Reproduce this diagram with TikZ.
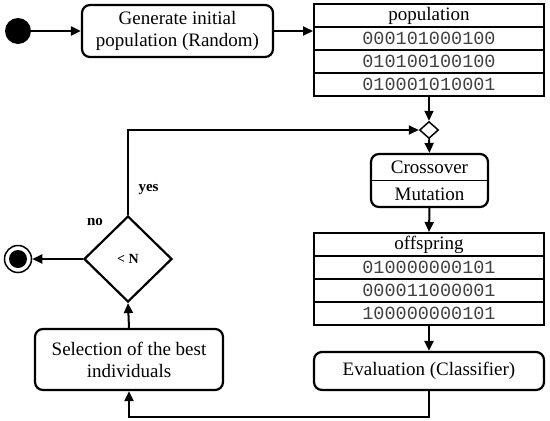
\documentclass[tikz,border=0pt]{standalone}
\usepackage{fontspec}
\setmainfont{Liberation Serif}
\setmonofont{Liberation Mono}
\usetikzlibrary{shapes.geometric,arrows.meta}
\begin{document}
\begin{tikzpicture}[x=1pt,y=-1pt,
  box/.style={draw,line width=2.2pt,rounded corners=8pt,align=center,font=\fontsize{19}{22}\selectfont,inner sep=0pt},
  cell/.style={draw,line width=2pt,minimum width=230pt,minimum height=23pt,inner sep=0pt,font=\fontsize{18.5}{22}\ttfamily\selectfont,text=black!75},
  head/.style={cell,font=\fontsize{19}{22}\selectfont,text=black},
  flow/.style={line width=2pt,-{Triangle[length=10pt,width=9pt]}},
  lab/.style={font=\fontsize{15}{18}\bfseries\selectfont}]
\useasboundingbox (0,0) rectangle (550,421);
% start / end
\node[circle,fill,minimum size=26pt,inner sep=0pt] (start) at (18,31) {};
\node[circle,draw,line width=1.5pt,minimum size=27pt,inner sep=0pt] (end) at (18,259) {};
\node[circle,fill,minimum size=18pt,inner sep=0pt] (endin) at (end) {};
% actions
\node[box,minimum width=191pt,minimum height=52pt] (gen) at (177.5,31) {Generate initial\\population (Random)};
\node[box,minimum width=117pt,minimum height=53pt] (cm) at (429.5,180.5) {Crossover\\[5pt]Mutation};
\draw[line width=1.5pt] (cm.west) -- (cm.east);
\node[box,minimum width=230pt,minimum height=38pt] (eval) at (429,371) {Evaluation (Classifier)};
\node[box,minimum width=188pt,minimum height=61pt] (sel) at (129,359.5) {Selection of the best\\individuals};
% population table
\node[head] (ph) at (429,15.5) {population};
\node[cell] (p1) at (429,38.5) {000101000100};
\node[cell] (p2) at (429,61.5) {010100100100};
\node[cell] (p3) at (429,84.5) {010001010001};
% offspring table
\node[head] (oh) at (429,244.5) {offspring};
\node[cell] (o1) at (429,267.5) {010000000101};
\node[cell] (o2) at (429,290.5) {000011000001};
\node[cell] (o3) at (429,313.5) {100000000101};
% decisions
\node[diamond,draw,line width=1.5pt,minimum width=19pt,minimum height=17pt,inner sep=0pt] (merge) at (429,130) {};
\node[diamond,draw,line width=2.2pt,minimum width=88pt,minimum height=86pt,inner sep=0pt,font=\fontsize{14}{16}\bfseries\selectfont] (dec) at (128,259) {< N};
% labels
\node[lab] (yes) at (148.5,190) {yes};
\node[lab] (no) at (95,222) {no};
% connectors
\draw[flow] (start) -- (gen);
\draw[flow] (gen.east) -- (gen.east -| ph.west);
\draw[flow] (p3.south) -- (merge.north);
\draw[flow] (merge.south) -- (cm.north);
\draw[flow] (cm.south) -- (oh.north);
\draw[flow] (o3.south) -- (eval.north);
\draw[flow] (eval.south) -- ++(0,26) -| (sel.south);
\draw[flow] (sel.north) -- (dec.south);
\draw[flow] (dec.west) -- (end.east);
\draw[flow] (dec.north) |- (merge.west);
\end{tikzpicture}
\end{document}
